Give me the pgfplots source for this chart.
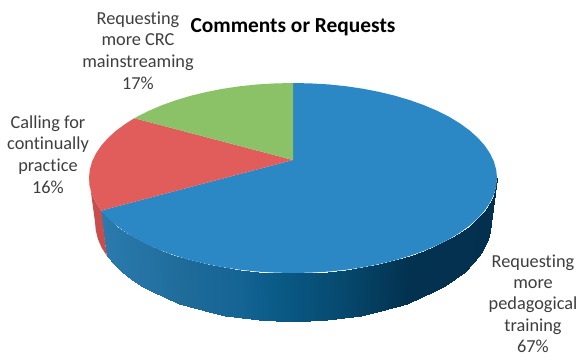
\documentclass[border=0pt]{standalone}
\usepackage{fontspec}
\setmainfont{Carlito}[Ligatures=NoCommon]
\usepackage{pgfplots}
\pgfplotsset{compat=1.18}
\usepgfplotslibrary{patchplots}
\definecolor{pieblue}{RGB}{44,136,196}
\definecolor{piered}{RGB}{225,93,91}
\definecolor{piegreen}{RGB}{139,194,104}
\definecolor{redwall}{RGB}{200,78,78}
\definecolor{labeltext}{RGB}{62,62,62}
\begin{document}
\begin{tikzpicture}
\begin{axis}[
  name=pie,
  scale only axis, width=578pt, height=357pt,
  xmin=0, xmax=578, ymin=0, ymax=357, y dir=reverse,
  hide axis, clip=false,
  colormap={wall}{
    rgb255(90)=(44,124,176) rgb255(150)=(36,114,163) rgb255(185)=(30,107,153)
    rgb255(240)=(20,100,148) rgb255(270)=(11,92,137) rgb255(300)=(8,84,126)
    rgb255(340)=(7,74,112) rgb255(380)=(4,60,92) rgb255(410)=(3,50,80)
    rgb255(500)=(3,48,78)},
  point meta min=90, point meta max=500,
]
% outside wall of the large slice
\addplot[surf, shader=interp, mesh/rows=33, mesh/cols=2, point meta=explicit]
  table[x=x, y=y, meta=c] {
x y c
497 178 497
491 222 497
496.2 186.3 496
490.2 230.7 496
493.9 194.5 494
488 239.3 494
490 202.6 490
484.3 247.8 490
484.7 210.5 485
479.1 256 485
477.9 218.1 478
472.4 264.1 478
469.7 225.5 470
464.5 271.8 470
460.1 232.5 460
455.2 279.1 460
449.3 239.1 449
444.7 286 449
437.2 245.2 437
433 292.4 437
424.1 250.8 424
420.3 298.2 424
410 255.8 410
406.6 303.5 410
395 260.3 395
392 308.2 395
379.2 264.1 379
376.7 312.2 379
362.8 267.3 363
360.7 315.5 363
345.8 269.8 346
344.2 318.1 346
328.4 271.6 328
327.4 320 328
310.8 272.6 311
310.3 321.1 311
293 273 293
293 321.5 293
275.2 272.6 275
275.7 321.1 275
257.6 271.6 258
258.6 320 258
240.2 269.8 240
241.8 318.1 240
223.2 267.3 223
225.3 315.5 223
206.8 264.1 207
209.3 312.2 207
191 260.3 191
194 308.2 191
176 255.8 176
179.4 303.5 176
161.9 250.8 162
165.7 298.2 162
148.8 245.2 149
153 292.4 149
136.7 239.1 137
141.3 286 137
125.9 232.5 126
130.8 279.1 126
116.3 225.5 116
121.5 271.8 116
108.1 218.1 108
113.6 264.1 108
101.3 210.5 101
106.9 256 101
};
% outside wall of the red slice
\addplot[fill=redwall, draw=none, no markers] coordinates {
 (101.3,210.5) (96,202.6) (92.1,194.5) (89.8,186.3) (89,178)
 (95,222) (95.8,230.7) (98,239.3) (101.7,247.8) (106.9,256)} -- cycle;
% top face: Requesting more pedagogical training, 67%
\addplot[fill=pieblue, draw=none, no markers] coordinates {
 (293,160) (293,83) (310.8,83.4) (328.4,84.4) (345.8,86.2) (362.8,88.7) (379.2,91.9)
 (395,95.7) (410,100.2) (424.1,105.2) (437.2,110.8) (449.3,116.9) (460.1,123.5)
 (469.7,130.5) (477.9,137.9) (484.7,145.5) (490,153.4) (493.9,161.5) (496.2,169.7)
 (497,178) (496.2,186.3) (493.9,194.5) (490,202.6) (484.7,210.5) (477.9,218.1)
 (469.7,225.5) (460.1,232.5) (449.3,239.1) (437.2,245.2) (424.1,250.8) (410,255.8)
 (395,260.3) (379.2,264.1) (362.8,267.3) (345.8,269.8) (328.4,271.6) (310.8,272.6)
 (293,273) (275.2,272.6) (257.6,271.6) (240.2,269.8) (223.2,267.3) (206.8,264.1)
 (191,260.3) (176,255.8) (161.9,250.8) (148.8,245.2) (136.7,239.1) (125.9,232.5)
 (116.3,225.5) (108.1,218.1) (101.3,210.5)} -- cycle;
% top face: Calling for continually practice, 16%
\addplot[fill=piered, draw=none, no markers] coordinates {
 (293,160) (101.3,210.5) (96,202.6) (92.1,194.5) (89.8,186.3) (89,178) (89.8,169.7)
 (92.1,161.5) (96,153.4) (101.3,145.5) (108.1,137.9) (116.3,130.5) (125.9,123.5)
 (134.4,118.2)} -- cycle;
% top face: Requesting more CRC mainstreaming, 17%
\addplot[fill=piegreen, draw=none, no markers] coordinates {
 (293,160) (134.4,118.2) (136.7,116.9) (148.8,110.8) (161.9,105.2) (176,100.2)
 (191,95.7) (206.8,91.9) (223.2,88.7) (240.2,86.2) (257.6,84.4) (275.2,83.4) (293,83)} -- cycle;

\node[font=\fontsize{21.4}{25}\selectfont\bfseries, text=black] at (axis cs:293,27) {Comments or Requests};
\node[align=center, text=labeltext, font=\fontsize{18.3}{21.6}\selectfont] at (axis cs:138,50.5)
  {Requesting\\more CRC\\mainstreaming\\17\%};
\node[align=center, text=labeltext, font=\fontsize{18.3}{21.6}\selectfont] at (axis cs:48,154.5)
  {Calling for\\continually\\practice\\16\%};
\node[align=center, text=labeltext, inner sep=0pt, font=\fontsize{18.3}{21.3}\selectfont] at (axis cs:533,303.5)
  {Requesting\\more\\pedagogical\\training\\67\%};
\end{axis}
% page size is exactly the plotting area
\pgfresetboundingbox
\path (pie.south west) rectangle (pie.north east);
\end{tikzpicture}
\end{document}
